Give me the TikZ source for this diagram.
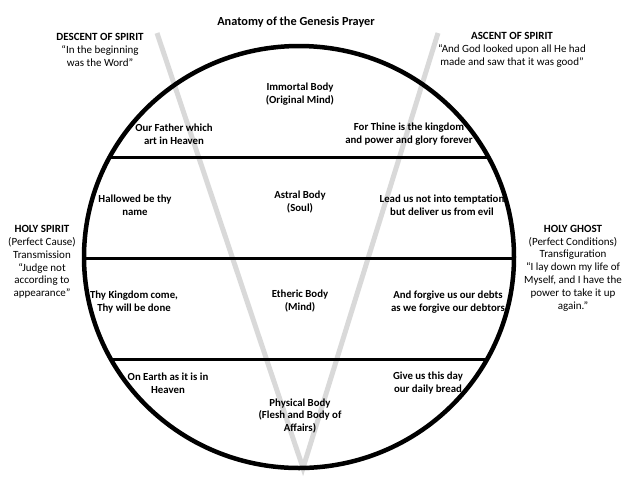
\documentclass[tikz,border=0pt]{standalone}
\usepackage{fontspec}
\setmainfont{Carlito}
\definecolor{vgray}{RGB}{217,217,217}

\begin{document}
\begin{tikzpicture}[x=1pt,y=-1pt]
        \tikzstyle{every node}=[font=\fontsize{11}{12.8}\selectfont, align=center, inner sep=0pt]
        \tikzstyle{prayer}=[font=\fontsize{10.8}{12.8}\selectfont\bfseries]
        \tikzstyle{vline}=[draw=vgray, line width=5pt]
        \tikzstyle{band}=[draw=black, line width=3pt]

        \useasboundingbox (0,0) rectangle (624,483);

        % the V of descent and ascent
        \coordinate (desctop) at (157,33);
        \coordinate (asctop) at (438,33);
        \coordinate (vtip) at (303,468);
        \draw[vline] (desctop) -- (vtip) -- (asctop);

        % circle and its bands
        \draw[line width=4.5pt] (299,257) ellipse [x radius=215, y radius=211];
        \draw[band] (109.7,157) -- (488.3,157);
        \draw[band] (84,258) -- (514,258);
        \draw[band] (110.8,359) -- (487.2,359);

        \node[font=\fontsize{12.3}{14}\selectfont\bfseries] (title) at (296,22) {Anatomy of the Genesis Prayer};

        % outside texts
        \node (descent) at (100,50) {\textbf{DESCENT OF SPIRIT}\\“In the beginning\\was the Word”};
        \node (ascent) at (512,50) {\textbf{ASCENT OF SPIRIT}\\“And God looked upon all He had\\made and saw that it was good”};
        \node (holyspirit) at (42,262) {\textbf{HOLY SPIRIT}\\(Perfect Cause)\\Transmission\\“Judge not\\according to\\appearance”};
        \node (holyghost) at (573,268) {\textbf{HOLY GHOST}\\(Perfect Conditions)\\Transfiguration\\“I lay down my life of\\Myself, and I have the\\power to take it up\\again.”};

        % bodies
        \node[prayer] (immortal) at (300,94) {Immortal Body\\(Original Mind)};
        \node[prayer] (astral) at (300,202) {Astral Body\\(Soul)};
        \node[prayer] (etheric) at (300,301) {Etheric Body\\(Mind)};
        \node[prayer] (physical) at (300,416) {Physical Body\\(Flesh and Body of\\Affairs)};

        % prayer lines
        \node[prayer] (father) at (174,134) {Our Father which\\art in Heaven};
        \node[prayer] (hallowed) at (135,205) {Hallowed be thy\\name};
        \node[prayer] (kingdom) at (134,302) {Thy Kingdom come,\\Thy will be done};
        \node[prayer] (earth) at (168,383) {On Earth as it is in\\Heaven};
        \node[prayer] (thine) at (409,134) {For Thine is the kingdom\\and power and glory forever};
        \node[prayer] (lead) at (442,205) {Lead us not into temptation\\but deliver us from evil};
        \node[prayer] (forgive) at (448,302) {And forgive us our debts\\as we forgive our debtors};
        \node[prayer] (bread) at (428,383) {Give us this day\\our daily bread};
    \end{tikzpicture}
\end{document}
